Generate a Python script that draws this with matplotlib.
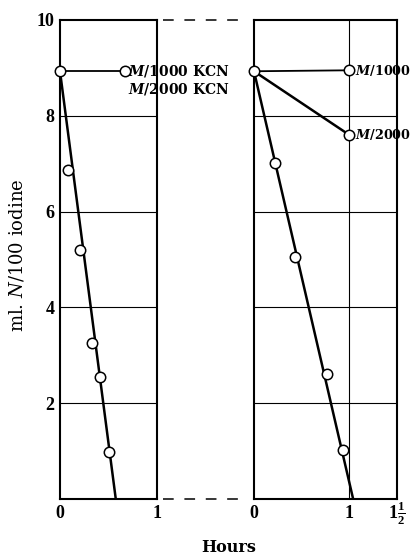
import matplotlib
matplotlib.use('Agg')
import matplotlib.pyplot as plt
from matplotlib.lines import Line2D

plt.rcParams['font.family'] = 'DejaVu Serif'
plt.rcParams['mathtext.fontset'] = 'custom'
plt.rcParams['mathtext.rm'] = 'Liberation Serif:bold'
plt.rcParams['mathtext.it'] = 'DejaVu Serif:italic:bold'
plt.rcParams['mathtext.sf'] = 'DejaVu Serif:italic'

# left panel: M/1000 and M/2000 KCN give the same reading
left_kcn_t = [0, 0.67]
left_kcn_v = [8.93, 8.93]
left_t = [0.086, 0.21, 0.33, 0.41, 0.50]
left_v = [6.87, 5.20, 3.26, 2.55, 0.99]
left_fit_t = [0, 0.575]
left_fit_v = [8.93, 0]

# right panel
right_m1000_t = [0, 1.0]
right_m1000_v = [8.93, 8.95]
right_m2000_t = [0, 1.0]
right_m2000_v = [8.93, 7.60]
right_t = [0.22, 0.43, 0.77, 0.93]
right_v = [7.01, 5.05, 2.62, 1.02]
right_fit_t = [0, 1.04]
right_fit_v = [8.93, 0]

y_grid = [2, 4, 6, 8]
left_xticks = [0, 1]
left_xlabels = ['0', '1']
right_xticks = [0, 1, 1.5]
right_xlabels = ['0', '1', r'$1\frac{1}{2}$']
yticks = [2, 4, 6, 8, 10]

W, H = 413, 557
fig = plt.figure(figsize=(W / 100, H / 100), dpi=100)
axL = fig.add_axes([60 / W, 58 / H, 97 / W, 479 / H])
axR = fig.add_axes([254 / W, 58 / H, 143 / W, 479 / H])

mk = dict(marker='o', ms=7.5, mfc='white', mec='black', mew=1.1, ls='none', clip_on=False, zorder=5)
tick_font = dict(family='Liberation Serif', weight='bold', size=13)

for ax, xmax in [(axL, 1), (axR, 1.5)]:
    ax.set_xlim(0, xmax)
    ax.set_ylim(0, 10)
    for y in y_grid:
        ax.axhline(y, color='black', lw=0.8, zorder=1)
    for s in ax.spines.values():
        s.set_linewidth(1.5)
    ax.tick_params(length=0, pad=4)

# left panel
axL.plot(left_kcn_t, left_kcn_v, color='black', lw=1.3, zorder=3)
axL.plot(left_fit_t, left_fit_v, color='black', lw=1.8, zorder=3)
axL.plot(left_kcn_t, left_kcn_v, **mk)
axL.plot(left_t, left_v, **mk)
axL.set_xticks(left_xticks)
axL.set_xticklabels(left_xlabels, fontdict=tick_font)
axL.set_yticks(yticks)
axL.set_yticklabels([str(v) for v in yticks], fontdict=tick_font)
axL.text(1.75, left_kcn_v[1], r'$M$/1000 KCN', ha='right', va='center',
         fontsize=10, fontweight='bold', clip_on=False)
axL.text(1.75, left_kcn_v[1] - 0.37, r'$M$/2000 KCN', ha='right', va='center',
         fontsize=10, fontweight='bold', clip_on=False)

# right panel
axR.axvline(1, color='black', lw=0.8, zorder=1)
axR.plot(right_m1000_t, right_m1000_v, color='black', lw=1.3, zorder=3)
axR.plot(right_m2000_t, right_m2000_v, color='black', lw=1.8, zorder=3)
axR.plot(right_fit_t, right_fit_v, color='black', lw=1.8, zorder=3)
axR.plot(right_m1000_t, right_m1000_v, **mk)
axR.plot(right_m2000_t[1:], right_m2000_v[1:], **mk)
axR.plot(right_t, right_v, **mk)
axR.set_xticks(right_xticks)
# the fraction label is placed by hand so the "1" sits level with the others
axR.set_xticklabels(right_xlabels[:2] + [''], fontdict=tick_font)
axR.text(right_xticks[2], -0.29, right_xlabels[2], ha='center', va='center',
         fontdict=tick_font, clip_on=False)
axR.set_yticks([])
axR.text(1.055, right_m1000_v[1], r'$M$/1000', ha='left', va='center',
         fontsize=9.2, fontweight='bold', clip_on=False)
axR.text(1.055, right_m2000_v[1], r'$M$/2000', ha='left', va='center',
         fontsize=9.2, fontweight='bold', clip_on=False)

# dashed links between the two panels at 10 and 0
for ypx in (20, 499):
    fig.add_artist(Line2D([163 / W, 244 / W], [1 - ypx / H, 1 - ypx / H],
                          transform=fig.transFigure, color='black', lw=1.1,
                          ls=(0, (7, 7))))

fig.text(17 / W, 1 - 255 / H, r'ml. $\mathsf{N}$/100 iodine', rotation=90,
         ha='center', va='center', fontsize=13)
fig.text(229 / W, 1 - 548 / H, 'Hours', ha='center', va='center',
         fontsize=11.5, fontweight='bold')

fig.savefig('out.png', dpi=100)
